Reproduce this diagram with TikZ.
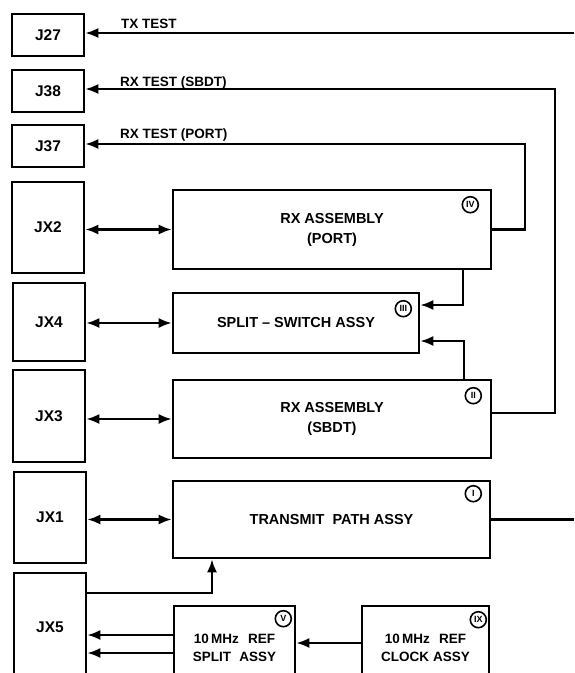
\documentclass[tikz,border=0pt]{standalone}
\usepackage{fontspec}
\setmainfont{Liberation Sans}
\usetikzlibrary{arrows.meta,positioning}
\tikzset{
  arrow/.style={-{Latex[length=13pt,width=10pt]}, line width=2.2pt},
  dblarrow/.style={{Latex[length=13pt,width=10pt]}-{Latex[length=13pt,width=10pt]}, line width=2.2pt},
  wire/.style={line width=2.2pt},
  jack/.style={draw, line width=2.6pt, minimum width=72pt, inner sep=0pt, font=\fontsize{15.5}{17}\selectfont\bfseries},
  assy/.style={draw, line width=2.6pt, inner sep=0pt, align=center, font=\fontsize{14.5}{20}\selectfont\bfseries},
  refbox/.style={draw, line width=2.6pt, inner sep=0pt, align=center, font=\fontsize{13.5}{18}\selectfont\bfseries},
  numeral/.style={draw, circle, line width=1.6pt, minimum size=16pt, inner sep=0pt, font=\fontsize{9}{9}\selectfont\bfseries},
  lbl/.style={anchor=base west, inner sep=0pt, font=\fontsize{13.5}{15}\selectfont\bfseries},
}
\begin{document}
\begin{tikzpicture}[x=1pt,y=-1pt]
        \clip (0,0) rectangle (574,673);
        \node[jack, minimum height=42pt] (j27) at (48,35){J27};
        \node[jack, minimum height=42pt] (j38) at (48,91){J38};
        \node[jack, minimum height=42pt] (j37) at (48,146){J37};
        \node[jack, minimum height=91pt] (jx2) at (48,227.5){JX2};
        \node[jack, minimum height=78pt] (jx4) at (49,322){JX4};
        \node[jack, minimum height=92pt] (jx3) at (49,416){JX3};
        \node[jack, minimum height=91pt] (jx1) at (50,517.5){JX1};
        \node[jack, minimum height=108pt] (jx5) at (50,627){JX5};
        \node[assy, minimum width=318pt, minimum height=79pt] (rxport) at (332,229.5){RX ASSEMBLY\\(PORT)};
        \node[assy, minimum width=246pt, minimum height=60pt] (split) at (296,323){SPLIT -- SWITCH ASSY};
        \node[assy, minimum width=318pt, minimum height=78pt] (rxsbdt) at (332,419){RX ASSEMBLY\\(SBDT)};
        \node[assy, minimum width=317pt, minimum height=77pt] (txpath) at (331.5,519.5){TRANSMIT\hspace{0.55em}PATH ASSY};
        \node[refbox, minimum width=121pt, minimum height=84pt] (refsplit) at (234.5,648){10\,MHz\hspace{0.7em}REF\\SPLIT\hspace{0.6em}ASSY};
        \node[refbox, minimum width=127pt, minimum height=84pt] (refclock) at (425.5,648){10\,MHz\hspace{0.7em}REF\\CLOCK\hspace{0.3em}ASSY};
        \node[numeral] (n4) at ([xshift=-22pt,yshift=-16pt]rxport.north east){IV};
        \node[numeral] (n3) at ([xshift=-17pt,yshift=-17pt]split.north east){III};
        \node[numeral] (n2) at ([xshift=-19pt,yshift=-17pt]rxsbdt.north east){II};
        \node[numeral] (n1) at ([xshift=-18pt,yshift=-14pt]txpath.north east){I};
        \node[numeral] (n5) at ([xshift=-13pt,yshift=-14pt]refsplit.north east){V};
        \node[numeral] (n9) at ([xshift=-12pt,yshift=-15pt]refclock.north east){IX};
        \coordinate (txin) at (574,33);
        \coordinate (txout) at (574,517);
        \coordinate (c1) at (525,144);
        \coordinate (c2) at (555,89);
        \coordinate (a1) at (463,305);
        \coordinate (a2) at (464,341);
        \coordinate (s1) at ([yshift=13pt]refsplit.west);
        \coordinate (s2) at ([yshift=-5pt]refsplit.west);
        \draw[arrow](txin)--(txin -| j27.east);
        \draw[arrow](rxport.east)-|(c1)--(c1 -| j37.east);
        \draw[arrow]([yshift=6pt]rxsbdt.east)-|(c2)--(c2 -| j38.east);
        \draw[wire](txpath.east)--(txpath.east -| txout);
        \draw[arrow](rxport.south -| a1)|-(a1 -| split.east);
        \draw[arrow](rxsbdt.north -| a2)|-(a2 -| split.east);
        \draw[dblarrow](rxport.west -| jx2.east)--(rxport.west);
        \draw[dblarrow](split.west -| jx4.east)--(split.west);
        \draw[dblarrow](rxsbdt.west -| jx3.east)--(rxsbdt.west);
        \draw[dblarrow](txpath.west -| jx1.east)--(txpath.west);
        \draw[arrow]([yshift=34pt]jx5.east)-|([xshift=-119.5pt]txpath.south);
        \draw[arrow](s1)--(s1 -| jx5.east);
        \draw[arrow](s2)--(s2 -| jx5.east);
        \draw[arrow]([yshift=5pt]refclock.west)--([yshift=5pt]refclock.west -| refsplit.east);
        \node[lbl] (ltx) at (121,28){TX TEST};
        \node[lbl] (lsbdt) at (120,86){RX TEST (SBDT)};
        \node[lbl] (lport) at (120,138){RX TEST (PORT)};
      \end{tikzpicture}
\end{document}
